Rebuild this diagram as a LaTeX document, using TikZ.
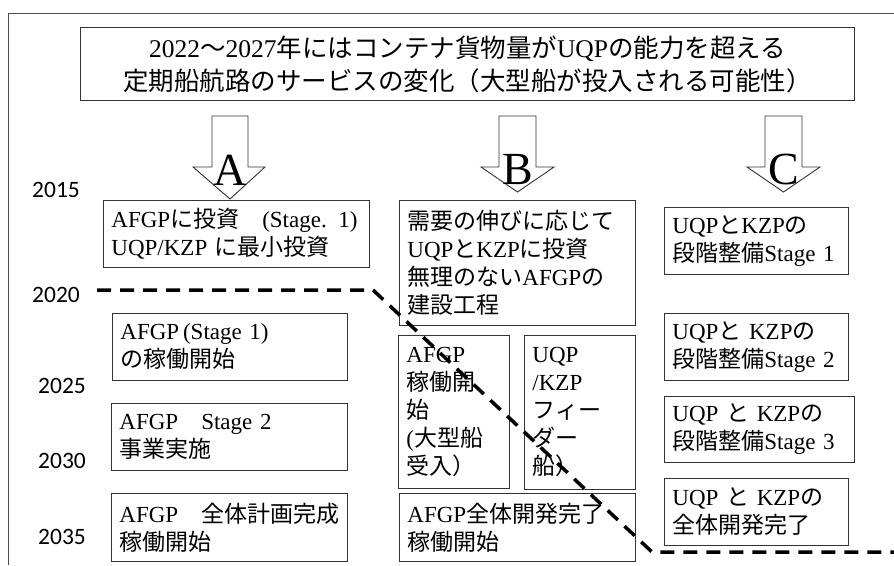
\documentclass[tikz,border=0pt]{standalone}
\usepackage{fontspec}
\setmainfont{Liberation Serif}
\newfontfamily\jp{Noto Sans CJK JP}
\newfontfamily\yr{Carlito}
\newcommand{\J}[1]{{\jp #1}}
\tikzset{
  box/.style={draw=black!80, line width=0.9pt, fill=white, align=left, inner xsep=8pt, inner ysep=0pt,
    font=\fontsize{23}{28}\selectfont, anchor=north west},
  titlebox/.style={draw=black!80, line width=0.9pt, fill=white, align=center, inner sep=0pt,
    font=\fontsize{25.5}{33}\selectfont, anchor=north west},
  yearlabel/.style={font=\yr\fontsize{23.5}{23.5}\selectfont, anchor=west, inner sep=0pt},
  letter/.style={font=\fontsize{46}{46}\selectfont, anchor=base, inner sep=0pt},
  blockarrow/.style={draw=black!80, line width=0.9pt, fill=white},
  frameline/.style={draw=black!70, line width=1pt},
  timeline/.style={line width=3.5pt, dash pattern=on 14pt off 9pt},
}
\begin{document}
\begin{tikzpicture}[x=1pt,y=-1pt]
\useasboundingbox (0,0) rectangle (894,565);
% frame
\draw[frameline] (894,13) -- (8,13) -- (8,565);
% title
\node[titlebox, minimum width=774pt, minimum height=73pt] (title) at (80,27)
  {2022\J{〜}2027\J{年にはコンテナ貨物量が}UQP\J{の能力を超える}\\
   \J{定期船航路のサービスの変化（大型船が投入される可能性）}};
% block arrows
\draw[blockarrow] (212,116) -- (248,116) -- (248,167) -- (265,167) -- (230,199) -- (193,167) -- (212,167) -- cycle;
\draw[blockarrow] (499,116) -- (536,116) -- (536,167) -- (554,167) -- (517.5,192) -- (481,167) -- (499,167) -- cycle;
\draw[blockarrow] (765,116) -- (802,116) -- (802,167) -- (820,167) -- (783.5,192) -- (747,167) -- (765,167) -- cycle;
\node[letter] (la) at (230,185) {A};
\node[letter] (lb) at (517.5,184) {B};
\node[letter] (lc) at (783.5,184) {C};
% column A
\node[box, minimum width=266pt, minimum height=67pt, text width=250pt] (a1) at (103,200)
  {AFGP\J{に投資　}(Stage. 1)\\UQP/KZP \J{に最小投資}};
\node[box, minimum width=235pt, minimum height=67pt, text width=219pt] (a2) at (112,313)
  {AFGP\,(Stage 1)\\\J{の稼働開始}};
\node[box, minimum width=236pt, minimum height=67pt, text width=220pt] (a3) at (111,403)
  {AFGP\J{　}Stage 2\\\J{事業実施}};
\node[box, minimum width=236pt, minimum height=68pt, text width=220pt] (a4) at (111,493)
  {AFGP\J{　全体計画完成}\\\J{稼働開始}};
% column B
\node[box, minimum width=236pt, minimum height=125pt, text width=220pt] (b1) at (399,200)
  {\J{需要の伸びに応じて}\\UQP\J{と}KZP\J{に投資}\\\J{無理のない}AFGP\J{の}\\\J{建設工程}};
\node[box, minimum width=111pt, minimum height=153pt, text width=95pt] (b2) at (398,335)
  {AFGP\\\J{稼働開}\\\J{始}\\(\J{大型船}\\\J{受入）}};
\node[box, minimum width=111pt, minimum height=154pt, text width=95pt] (b3) at (524,335)
  {UQP\\/KZP\\\J{フィー}\\\J{ダー}\\\J{船）}};
\node[box, minimum width=236pt, minimum height=68pt, text width=220pt] (b4) at (399,493)
  {AFGP\J{全体開発完了}\\\J{稼働開始}};
% column C
\node[box, minimum width=184pt, minimum height=67pt, text width=168pt] (c1) at (664,207)
  {UQP\J{と}KZP\J{の}\\\J{段階整備}Stage 1};
\node[box, minimum width=184pt, minimum height=67pt, text width=168pt] (c2) at (664,313)
  {UQP\J{と} KZP\J{の}\\\J{段階整備}Stage 2};
\node[box, minimum width=190pt, minimum height=66pt, text width=174pt] (c3) at (664,396)
  {UQP \J{と} KZP\J{の}\\\J{段階整備}Stage 3};
\node[box, minimum width=184pt, minimum height=67pt, text width=168pt] (c4) at (664,478)
  {UQP \J{と} KZP\J{の}\\\J{全体開発完了}};
% years
\node[yearlabel] (y2015) at (32,190) {2015};
\node[yearlabel] (y2020) at (32,295) {2020};
\node[yearlabel] (y2025) at (38,386) {2025};
\node[yearlabel] (y2030) at (38,461) {2030};
\node[yearlabel] (y2035) at (38,537) {2035};
% time line
\coordinate (t0) at (97,290);
\coordinate (t1) at (373,290);
\coordinate (t2) at (652,552);
\coordinate (t3) at (894,552);
\draw[timeline] (t0) -- (t1) -- (t2) -- (t3);
\end{tikzpicture}
\end{document}
